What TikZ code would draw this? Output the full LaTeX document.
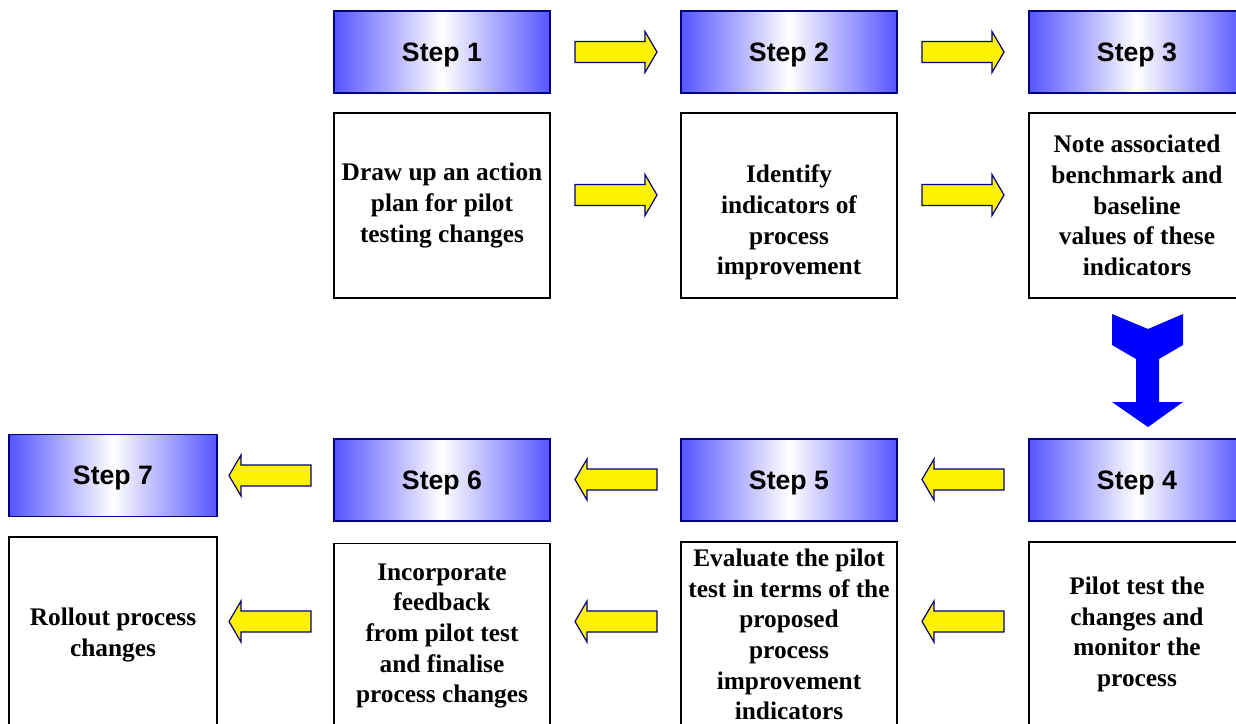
\documentclass[tikz,border=0pt]{standalone}
\usepackage{fontspec}
\newfontfamily\hdfont{Liberation Sans}
\newfontfamily\bodyfont{Liberation Serif}
\definecolor{navy}{RGB}{0,0,128}
\definecolor{edgeblue}{RGB}{85,85,255}
\definecolor{pureblue}{RGB}{0,0,255}
\begin{document}
\begin{tikzpicture}[x=0.75pt,y=-0.75pt,
  stepbox/.style={draw=navy, line width=1.1pt, left color=edgeblue, right color=edgeblue, middle color=white,
    minimum width=162pt, minimum height=61.5pt, inner sep=0pt, text depth=0pt,
    font=\hdfont\bfseries\fontsize{20}{24}\selectfont},
  textbox/.style={draw=black, line width=1.1pt, fill=white,
    minimum width=162pt, minimum height=138.75pt, inner sep=0pt, align=center,
    font=\bodyfont\bfseries\fontsize{19}{23}\selectfont},
  blockarrow/.style={draw=navy, line width=0.9pt, fill=yellow, line join=miter},
  rarrow/.pic={\path[blockarrow] (-41,-10.5) -- (29,-10.5) -- (29,-20.5) -- (41,0) -- (29,20.5) -- (29,10.5) -- (-41,10.5) -- cycle;},
  larrow/.pic={\path[blockarrow] (41,-10.5) -- (-29,-10.5) -- (-29,-20.5) -- (-41,0) -- (-29,20.5) -- (-29,10.5) -- (41,10.5) -- cycle;}
]
\clip (0,0) rectangle (1236,724);
\fill[white] (0,0) rectangle (1236,724);

% upper row
\node[stepbox] (s1) at (442,52) {Step 1};
\node[stepbox] (s2) at (789,52) {Step 2};
\node[stepbox] (s3) at (1137,52) {Step 3};
\node[textbox] (t1) at (442,205.5) {Draw up an action\\plan for pilot\\testing changes};
\node[textbox] (t2) at (789,205.5) {\strut\\Identify\\indicators of\\process\\improvement};
\node[textbox] (t3) at (1137,205.5) {Note associated\\benchmark and\\baseline\\values of these\\indicators};

% lower row
\node[stepbox] (s4) at (1137,480) {Step 4};
\node[stepbox] (s5) at (789,480) {Step 5};
\node[stepbox] (s6) at (442,480) {Step 6};
\node[stepbox, minimum width=156pt] (s7) at (113,475.5) {Step 7};
\node[textbox] (t4) at (1137,634.5) {Pilot test the\\changes and\\monitor the\\process};
\node[textbox] (t5) at (789,634.5) {Evaluate the pilot\\test in terms of the\\proposed\\process\\improvement\\indicators};
\node[textbox] (t6) at (442,636) {Incorporate\\feedback\\from pilot test\\and finalise\\process changes};
\node[textbox, minimum width=156pt, minimum height=147pt] (t7) at (113,635) {Rollout process\\changes};

% arrows along the upper row
\pic (a12) at (616,52) {rarrow};
\pic (a23) at (963,52) {rarrow};
\pic (b12) at (616,195) {rarrow};
\pic (b23) at (963,195) {rarrow};

% arrows along the lower row
\pic (a45) at (963,479.5) {larrow};
\pic (a56) at (616,479.5) {larrow};
\pic (a67) at (270,475.5) {larrow};
\pic (b45) at (963,621.5) {larrow};
\pic (b56) at (616,621.5) {larrow};
\pic (b67) at (270,621.5) {larrow};

% turn from step 3 down to step 4
\fill[pureblue] (1112,314) -- (1148,329) -- (1183,314) -- (1183,345) -- (1159,359) -- (1159,402)
  -- (1183,402) -- (1148,427) -- (1112,402) -- (1136,402) -- (1136,359) -- (1112,345) -- cycle;
\end{tikzpicture}
\end{document}
